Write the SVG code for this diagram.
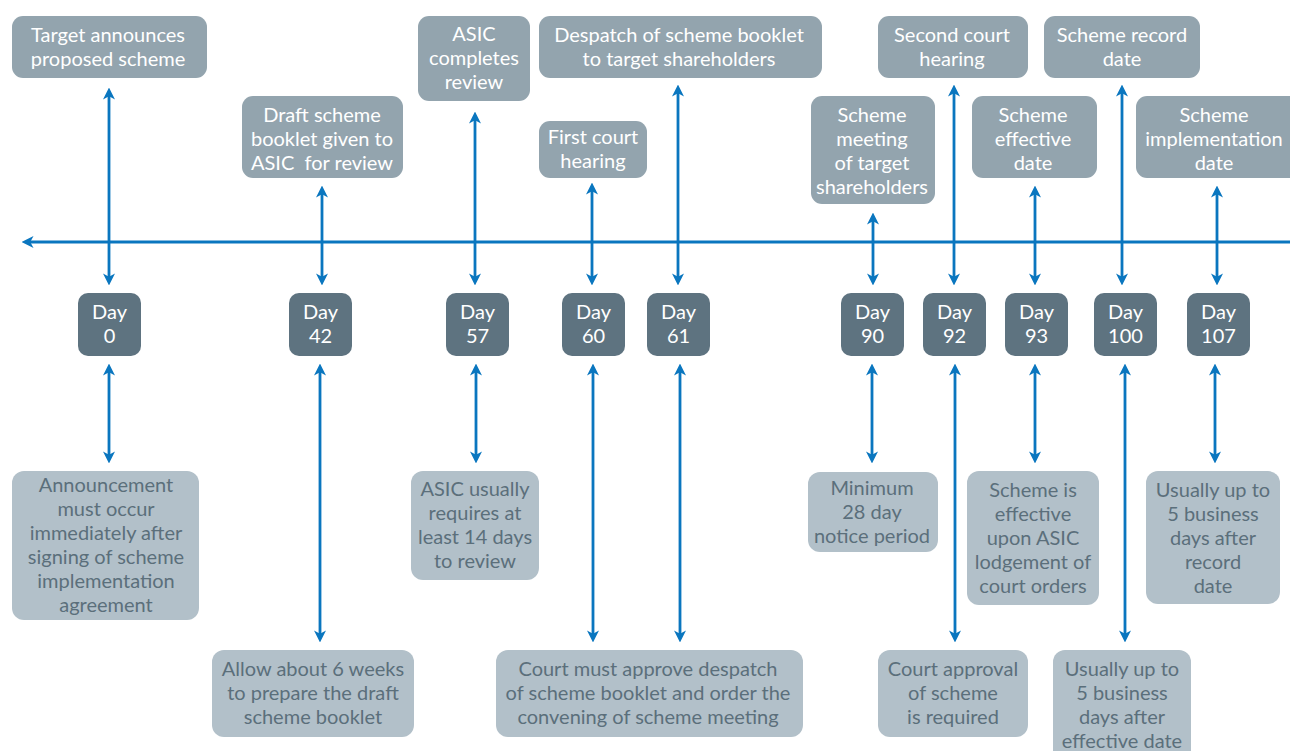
<svg xmlns="http://www.w3.org/2000/svg" width="1290" height="751" viewBox="0 0 1290 751">
<style>
text{font-family:Lato,"Open Sans","Liberation Sans",sans-serif;font-size:20px;text-anchor:middle}
.top rect{fill:#93a4ae}
.top text{fill:#ffffff}
.day rect{fill:#5e7380}
.day text{fill:#ffffff}
.bot rect{fill:#b2c0c9}
.bot text{fill:#5b6f7b}
.conn line{stroke:#0a76bf;stroke-width:2.8;fill:none}
</style>
<defs>
<marker id="ah" markerUnits="userSpaceOnUse" markerWidth="12" markerHeight="12" refX="6" refY="5.5" orient="auto-start-reverse" viewBox="0 0 11 11">
<path d="M0,0 L11,5.5 L0,11 L3,5.5 z" fill="#0a76bf"/>
</marker>
</defs>
<rect width="1290" height="751" fill="#ffffff"/>

<g id="connectors" class="conn">
<line x1="1290" y1="242" x2="27" y2="242" stroke-width="3" marker-end="url(#ah)"/>
<line x1="109" y1="93" x2="109" y2="280" marker-start="url(#ah)" marker-end="url(#ah)"/>
<line x1="322" y1="191" x2="322" y2="280" marker-start="url(#ah)" marker-end="url(#ah)"/>
<line x1="475" y1="117" x2="475" y2="280" marker-start="url(#ah)" marker-end="url(#ah)"/>
<line x1="592" y1="188" x2="592" y2="280" marker-start="url(#ah)" marker-end="url(#ah)"/>
<line x1="678" y1="90" x2="678" y2="280" marker-start="url(#ah)" marker-end="url(#ah)"/>
<line x1="873" y1="218" x2="873" y2="280" marker-start="url(#ah)" marker-end="url(#ah)"/>
<line x1="954" y1="90" x2="954" y2="280" marker-start="url(#ah)" marker-end="url(#ah)"/>
<line x1="1035" y1="191" x2="1035" y2="280" marker-start="url(#ah)" marker-end="url(#ah)"/>
<line x1="1122" y1="90" x2="1122" y2="280" marker-start="url(#ah)" marker-end="url(#ah)"/>
<line x1="1217" y1="191" x2="1217" y2="280" marker-start="url(#ah)" marker-end="url(#ah)"/>

<line x1="109" y1="369" x2="109" y2="458" marker-start="url(#ah)" marker-end="url(#ah)"/>
<line x1="320" y1="369" x2="320" y2="637" marker-start="url(#ah)" marker-end="url(#ah)"/>
<line x1="476" y1="369" x2="476" y2="458" marker-start="url(#ah)" marker-end="url(#ah)"/>
<line x1="593" y1="369" x2="593" y2="637" marker-start="url(#ah)" marker-end="url(#ah)"/>
<line x1="680" y1="369" x2="680" y2="637" marker-start="url(#ah)" marker-end="url(#ah)"/>
<line x1="872" y1="369" x2="872" y2="458" marker-start="url(#ah)" marker-end="url(#ah)"/>
<line x1="955" y1="369" x2="955" y2="637" marker-start="url(#ah)" marker-end="url(#ah)"/>
<line x1="1035" y1="369" x2="1035" y2="458" marker-start="url(#ah)" marker-end="url(#ah)"/>
<line x1="1125" y1="369" x2="1125" y2="637" marker-start="url(#ah)" marker-end="url(#ah)"/>
<line x1="1215" y1="369" x2="1215" y2="458" marker-start="url(#ah)" marker-end="url(#ah)"/>
</g>

<g id="top-nodes" class="top">
<g id="t-announce"><rect x="12" y="16" width="195" height="62" rx="11"/>
<text x="108" y="42">Target announces</text><text x="108" y="66">proposed scheme</text></g>
<g id="t-draft"><rect x="242" y="96" width="161" height="82" rx="11"/>
<text x="322" y="122">Draft scheme</text><text x="322" y="146">booklet given to</text><text x="322" y="170" xml:space="preserve">ASIC  for review</text></g>
<g id="t-asic"><rect x="418" y="16" width="112" height="85" rx="11"/>
<text x="474" y="41">ASIC</text><text x="474" y="65">completes</text><text x="474" y="89">review</text></g>
<g id="t-despatch"><rect x="539" y="16" width="283" height="62" rx="11"/>
<text x="679" y="42">Despatch of scheme booklet</text><text x="679" y="66">to target shareholders</text></g>
<g id="t-first"><rect x="539" y="121" width="108" height="57" rx="11"/>
<text x="593" y="144">First court</text><text x="593" y="168">hearing</text></g>
<g id="t-meeting"><rect x="811" y="96" width="124" height="108" rx="11"/>
<text x="872" y="122">Scheme</text><text x="872" y="146">meeting</text><text x="872" y="170">of target</text><text x="872" y="194">shareholders</text></g>
<g id="t-second"><rect x="878" y="16" width="150" height="62" rx="11"/>
<text x="952" y="42">Second court</text><text x="952" y="66">hearing</text></g>
<g id="t-effective"><rect x="972" y="96" width="125" height="82" rx="11"/>
<text x="1033" y="122">Scheme</text><text x="1033" y="146">effective</text><text x="1033" y="170">date</text></g>
<g id="t-record"><rect x="1044" y="16" width="156" height="62" rx="11"/>
<text x="1122" y="42">Scheme record</text><text x="1122" y="66">date</text></g>
<g id="t-impl"><rect x="1136" y="96" width="166" height="82" rx="11"/>
<text x="1214" y="122">Scheme</text><text x="1214" y="146">implementation</text><text x="1214" y="170">date</text></g>
</g>

<g id="day-nodes" class="day">
<g id="d0"><rect x="78" y="293" width="63" height="63" rx="10"/><text x="109.5" y="319">Day</text><text x="109.5" y="343">0</text></g>
<g id="d42"><rect x="289" y="293" width="63" height="63" rx="10"/><text x="320.5" y="319">Day</text><text x="320.5" y="343">42</text></g>
<g id="d57"><rect x="446" y="293" width="63" height="63" rx="10"/><text x="477.5" y="319">Day</text><text x="477.5" y="343">57</text></g>
<g id="d60"><rect x="562" y="293" width="63" height="63" rx="10"/><text x="593.5" y="319">Day</text><text x="593.5" y="343">60</text></g>
<g id="d61"><rect x="647" y="293" width="63" height="63" rx="10"/><text x="678.5" y="319">Day</text><text x="678.5" y="343">61</text></g>
<g id="d90"><rect x="841" y="293" width="63" height="63" rx="10"/><text x="872.5" y="319">Day</text><text x="872.5" y="343">90</text></g>
<g id="d92"><rect x="923" y="293" width="63" height="63" rx="10"/><text x="954.5" y="319">Day</text><text x="954.5" y="343">92</text></g>
<g id="d93"><rect x="1005" y="293" width="63" height="63" rx="10"/><text x="1036.5" y="319">Day</text><text x="1036.5" y="343">93</text></g>
<g id="d100"><rect x="1094" y="293" width="63" height="63" rx="10"/><text x="1125.5" y="319">Day</text><text x="1125.5" y="343">100</text></g>
<g id="d107"><rect x="1187" y="293" width="63" height="63" rx="10"/><text x="1218.5" y="319">Day</text><text x="1218.5" y="343">107</text></g>
</g>

<g id="bottom-nodes" class="bot">
<g id="b-announce"><rect x="12" y="471" width="187" height="149" rx="12"/>
<text x="106" y="492">Announcement</text><text x="106" y="516">must occur</text><text x="106" y="540">immediately after</text><text x="106" y="564">signing of scheme</text><text x="106" y="588">implementation</text><text x="106" y="612">agreement</text></g>
<g id="b-allow"><rect x="212" y="650" width="202" height="87" rx="12"/>
<text x="313" y="676">Allow about 6 weeks</text><text x="313" y="700">to prepare the draft</text><text x="313" y="724">scheme booklet</text></g>
<g id="b-asic"><rect x="411" y="471" width="128" height="109" rx="12"/>
<text x="475" y="496">ASIC usually</text><text x="475" y="520">requires at</text><text x="475" y="544">least 14 days</text><text x="475" y="568">to review</text></g>
<g id="b-court"><rect x="496" y="650" width="307" height="87" rx="12"/>
<text x="648" y="676">Court must approve despatch</text><text x="648" y="700">of scheme booklet and order the</text><text x="648" y="724">convening of scheme meeting</text></g>
<g id="b-minimum"><rect x="808" y="472" width="130" height="80" rx="12"/>
<text x="872" y="495">Minimum</text><text x="872" y="519">28 day</text><text x="872" y="543">notice period</text></g>
<g id="b-approval"><rect x="878" y="650" width="150" height="87" rx="12"/>
<text x="953" y="676">Court approval</text><text x="953" y="700">of scheme</text><text x="953" y="724">is required</text></g>
<g id="b-effective"><rect x="967" y="471" width="132" height="134" rx="12"/>
<text x="1033" y="497">Scheme is</text><text x="1033" y="521">effective</text><text x="1033" y="545">upon ASIC</text><text x="1033" y="569">lodgement of</text><text x="1033" y="593">court orders</text></g>
<g id="b-usually1"><rect x="1053" y="650" width="138" height="115" rx="12"/>
<text x="1122" y="676">Usually up to</text><text x="1122" y="700">5 business</text><text x="1122" y="724">days after</text><text x="1122" y="748">effective date</text></g>
<g id="b-usually2"><rect x="1146" y="471" width="134" height="133" rx="12"/>
<text x="1213" y="497">Usually up to</text><text x="1213" y="521">5 business</text><text x="1213" y="545">days after</text><text x="1213" y="569">record</text><text x="1213" y="593">date</text></g>
</g>
</svg>
